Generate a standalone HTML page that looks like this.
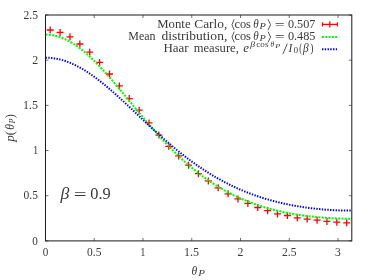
<!DOCTYPE html>
<html><head><meta charset="utf-8"><style>
html,body{margin:0;padding:0;background:#fff;}
svg{display:block;font-family:"Liberation Serif",serif;will-change:transform;}
text{fill:#3a3a3a;}
</style></head><body>
<svg width="374" height="280" viewBox="0 0 374 280">
<rect width="374" height="280" fill="#fff"/>
<path d="M46.70,30.00h7M50.20,26.50v7M56.58,32.40h7M60.08,28.90v7M66.47,36.80h7M69.97,33.30v7M76.35,44.00h7M79.85,40.50v7M86.23,52.20h7M89.73,48.70v7M96.11,62.40h7M99.61,58.90v7M106.00,74.00h7M109.50,70.50v7M115.88,85.90h7M119.38,82.40v7M125.76,98.60h7M129.26,95.10v7M135.65,110.20h7M139.15,106.70v7M145.53,122.90h7M149.03,119.40v7M155.41,135.10h7M158.91,131.60v7M165.30,146.30h7M168.80,142.80v7M175.18,155.90h7M178.68,152.40v7M185.06,165.20h7M188.56,161.70v7M194.94,173.70h7M198.44,170.20v7M204.83,180.90h7M208.33,177.40v7M214.71,187.80h7M218.21,184.30v7M224.59,193.80h7M228.09,190.30v7M234.48,198.90h7M237.98,195.40v7M244.36,203.40h7M247.86,199.90v7M254.24,207.50h7M257.74,204.00v7M264.13,210.70h7M267.63,207.20v7M274.01,213.90h7M277.51,210.40v7M283.89,215.50h7M287.39,212.00v7M293.77,217.80h7M297.27,214.30v7M303.66,219.10h7M307.16,215.60v7M313.54,220.20h7M317.04,216.70v7M323.42,221.40h7M326.92,217.90v7M333.31,222.20h7M336.81,218.70v7M343.19,222.80h7M346.69,219.30v7" stroke="#f00" stroke-width="1.3" fill="none"/>
<path d="M45.50,34.61 L47.03,34.64 L48.56,34.73 L50.09,34.87 L51.63,35.07 L53.16,35.32 L54.69,35.63 L56.22,36.00 L57.75,36.42 L59.28,36.90 L60.81,37.43 L62.35,38.01 L63.88,38.65 L65.41,39.34 L66.94,40.08 L68.47,40.87 L70.00,41.71 L71.54,42.61 L73.07,43.55 L74.60,44.53 L76.13,45.57 L77.66,46.65 L79.19,47.77 L80.72,48.94 L82.26,50.15 L83.79,51.40 L85.32,52.69 L86.85,54.02 L88.38,55.38 L89.91,56.78 L91.44,58.22 L92.98,59.69 L94.51,61.19 L96.04,62.72 L97.57,64.28 L99.10,65.87 L100.63,67.48 L102.17,69.12 L103.70,70.79 L105.23,72.47 L106.76,74.18 L108.29,75.91 L109.82,77.65 L111.35,79.41 L112.89,81.19 L114.42,82.98 L115.95,84.78 L117.48,86.59 L119.01,88.41 L120.54,90.25 L122.08,92.09 L123.61,93.93 L125.14,95.78 L126.67,97.64 L128.20,99.49 L129.73,101.35 L131.26,103.21 L132.80,105.07 L134.33,106.92 L135.86,108.78 L137.39,110.63 L138.92,112.47 L140.45,114.31 L141.98,116.14 L143.52,117.96 L145.05,119.77 L146.58,121.58 L148.11,123.37 L149.64,125.15 L151.17,126.92 L152.70,128.68 L154.24,130.42 L155.77,132.15 L157.30,133.87 L158.83,135.57 L160.36,137.26 L161.89,138.93 L163.43,140.58 L164.96,142.21 L166.49,143.83 L168.02,145.43 L169.55,147.01 L171.08,148.57 L172.61,150.12 L174.15,151.64 L175.68,153.14 L177.21,154.63 L178.74,156.09 L180.27,157.54 L181.80,158.96 L183.34,160.37 L184.87,161.75 L186.40,163.11 L187.93,164.45 L189.46,165.77 L190.99,167.07 L192.52,168.35 L194.06,169.61 L195.59,170.84 L197.12,172.06 L198.65,173.26 L200.18,174.43 L201.71,175.58 L203.24,176.72 L204.78,177.83 L206.31,178.92 L207.84,179.99 L209.37,181.05 L210.90,182.08 L212.43,183.09 L213.97,184.08 L215.50,185.06 L217.03,186.01 L218.56,186.94 L220.09,187.86 L221.62,188.76 L223.15,189.64 L224.69,190.50 L226.22,191.34 L227.75,192.16 L229.28,192.97 L230.81,193.76 L232.34,194.53 L233.87,195.29 L235.41,196.03 L236.94,196.75 L238.47,197.46 L240.00,198.15 L241.53,198.82 L243.06,199.48 L244.59,200.13 L246.13,200.75 L247.66,201.37 L249.19,201.97 L250.72,202.55 L252.25,203.12 L253.78,203.68 L255.32,204.22 L256.85,204.75 L258.38,205.27 L259.91,205.78 L261.44,206.27 L262.97,206.75 L264.50,207.21 L266.04,207.67 L267.57,208.11 L269.10,208.54 L270.63,208.96 L272.16,209.37 L273.69,209.77 L275.23,210.15 L276.76,210.53 L278.29,210.89 L279.82,211.25 L281.35,211.59 L282.88,211.93 L284.41,212.25 L285.95,212.57 L287.48,212.87 L289.01,213.17 L290.54,213.45 L292.07,213.73 L293.60,214.00 L295.13,214.26 L296.67,214.51 L298.20,214.76 L299.73,214.99 L301.26,215.22 L302.79,215.44 L304.32,215.65 L305.86,215.85 L307.39,216.05 L308.92,216.24 L310.45,216.42 L311.98,216.59 L313.51,216.75 L315.04,216.91 L316.58,217.06 L318.11,217.21 L319.64,217.34 L321.17,217.47 L322.70,217.60 L324.23,217.71 L325.76,217.82 L327.30,217.93 L328.83,218.02 L330.36,218.11 L331.89,218.20 L333.42,218.28 L334.95,218.35 L336.49,218.41 L338.02,218.47 L339.55,218.52 L341.08,218.57 L342.61,218.61 L344.14,218.64 L345.67,218.67 L347.21,218.69 L348.74,218.71 L350.27,218.72 L351.80,218.72" stroke="#0f0" stroke-width="2" stroke-dasharray="2.0 1.3" fill="none"/>
<path d="M45.50,57.67 L47.03,57.69 L48.56,57.76 L50.09,57.86 L51.63,58.00 L53.16,58.18 L54.69,58.40 L56.22,58.67 L57.75,58.97 L59.28,59.31 L60.81,59.69 L62.35,60.11 L63.88,60.57 L65.41,61.07 L66.94,61.60 L68.47,62.17 L70.00,62.78 L71.54,63.43 L73.07,64.11 L74.60,64.82 L76.13,65.57 L77.66,66.35 L79.19,67.17 L80.72,68.02 L82.26,68.90 L83.79,69.81 L85.32,70.75 L86.85,71.72 L88.38,72.72 L89.91,73.74 L91.44,74.79 L92.98,75.87 L94.51,76.98 L96.04,78.11 L97.57,79.26 L99.10,80.43 L100.63,81.63 L102.17,82.84 L103.70,84.08 L105.23,85.34 L106.76,86.61 L108.29,87.90 L109.82,89.21 L111.35,90.53 L112.89,91.87 L114.42,93.21 L115.95,94.58 L117.48,95.95 L119.01,97.33 L120.54,98.73 L122.08,100.13 L123.61,101.54 L125.14,102.96 L126.67,104.39 L128.20,105.82 L129.73,107.25 L131.26,108.69 L132.80,110.13 L134.33,111.57 L135.86,113.02 L137.39,114.47 L138.92,115.91 L140.45,117.36 L141.98,118.80 L143.52,120.24 L145.05,121.68 L146.58,123.12 L148.11,124.55 L149.64,125.97 L151.17,127.39 L152.70,128.81 L154.24,130.22 L155.77,131.62 L157.30,133.01 L158.83,134.40 L160.36,135.78 L161.89,137.15 L163.43,138.50 L164.96,139.85 L166.49,141.19 L168.02,142.52 L169.55,143.84 L171.08,145.14 L172.61,146.44 L174.15,147.72 L175.68,148.99 L177.21,150.25 L178.74,151.49 L180.27,152.72 L181.80,153.94 L183.34,155.14 L184.87,156.33 L186.40,157.51 L187.93,158.67 L189.46,159.82 L190.99,160.96 L192.52,162.08 L194.06,163.18 L195.59,164.27 L197.12,165.35 L198.65,166.41 L200.18,167.45 L201.71,168.48 L203.24,169.50 L204.78,170.50 L206.31,171.48 L207.84,172.46 L209.37,173.41 L210.90,174.35 L212.43,175.28 L213.97,176.19 L215.50,177.09 L217.03,177.97 L218.56,178.83 L220.09,179.69 L221.62,180.52 L223.15,181.35 L224.69,182.15 L226.22,182.95 L227.75,183.73 L229.28,184.49 L230.81,185.24 L232.34,185.98 L233.87,186.70 L235.41,187.41 L236.94,188.11 L238.47,188.79 L240.00,189.46 L241.53,190.12 L243.06,190.76 L244.59,191.39 L246.13,192.01 L247.66,192.61 L249.19,193.21 L250.72,193.79 L252.25,194.35 L253.78,194.91 L255.32,195.45 L256.85,195.98 L258.38,196.50 L259.91,197.01 L261.44,197.51 L262.97,197.99 L264.50,198.46 L266.04,198.93 L267.57,199.38 L269.10,199.82 L270.63,200.25 L272.16,200.67 L273.69,201.08 L275.23,201.48 L276.76,201.87 L278.29,202.25 L279.82,202.62 L281.35,202.97 L282.88,203.32 L284.41,203.66 L285.95,204.00 L287.48,204.32 L289.01,204.63 L290.54,204.93 L292.07,205.23 L293.60,205.51 L295.13,205.79 L296.67,206.06 L298.20,206.32 L299.73,206.57 L301.26,206.81 L302.79,207.05 L304.32,207.27 L305.86,207.49 L307.39,207.70 L308.92,207.90 L310.45,208.10 L311.98,208.29 L313.51,208.47 L315.04,208.64 L316.58,208.80 L318.11,208.96 L319.64,209.11 L321.17,209.25 L322.70,209.38 L324.23,209.51 L325.76,209.63 L327.30,209.74 L328.83,209.85 L330.36,209.95 L331.89,210.04 L333.42,210.13 L334.95,210.20 L336.49,210.28 L338.02,210.34 L339.55,210.40 L341.08,210.45 L342.61,210.49 L344.14,210.53 L345.67,210.56 L347.21,210.58 L348.74,210.60 L350.27,210.61 L351.80,210.61" stroke="#00f" stroke-width="2" stroke-dasharray="1.4 1.36" fill="none"/>
<path d="M45.50,240.90v-3M45.50,15.00v3M94.25,240.90v-3M94.25,15.00v3M143.00,240.90v-3M143.00,15.00v3M191.75,240.90v-3M191.75,15.00v3M240.50,240.90v-3M240.50,15.00v3M289.25,240.90v-3M289.25,15.00v3M337.99,240.90v-3M337.99,15.00v3M45.50,240.90h3M351.80,240.90h-3M45.50,195.72h3M351.80,195.72h-3M45.50,150.54h3M351.80,150.54h-3M45.50,105.36h3M351.80,105.36h-3M45.50,60.18h3M351.80,60.18h-3M45.50,15.00h3M351.80,15.00h-3" stroke="#333" stroke-width="0.7" fill="none"/>
<rect x="45.5" y="15.0" width="306.30" height="225.90" fill="none" stroke="#1a1a1a" stroke-width="1"/>
<text transform="translate(157.23,27.50) scale(1.083,1)" font-size="11.8">Monte</text><text transform="translate(194.21,27.50) scale(1.136,1)" font-size="11.8">Carlo,</text><text transform="translate(128.25,39.80) scale(1.015,1)" font-size="11.8">Mean</text><text transform="translate(161.48,39.80) scale(1.149,1)" font-size="11.8">distribution,</text><text transform="translate(234.42,27.50) scale(1.046,1)" font-size="11.8">cos</text><text transform="translate(253.35,27.50) scale(0.937,1)" font-size="11.8" font-style="italic">θ</text><text transform="translate(259.55,29.10) scale(1.123,1)" font-size="9.2" font-style="italic">P</text><text transform="translate(274.76,28.70) scale(1.481,1)" font-size="11.8">=</text><text transform="translate(287.92,27.50) scale(1.033,1)" font-size="11.8">0.507</text><text transform="translate(234.42,39.80) scale(1.046,1)" font-size="11.8">cos</text><text transform="translate(253.35,39.80) scale(0.937,1)" font-size="11.8" font-style="italic">θ</text><text transform="translate(259.55,41.40) scale(1.123,1)" font-size="9.2" font-style="italic">P</text><text transform="translate(274.76,41.00) scale(1.481,1)" font-size="11.8">=</text><text transform="translate(287.92,39.80) scale(1.038,1)" font-size="11.8">0.485</text><text transform="translate(163.43,51.60) scale(1.100,1)" font-size="11.8">Haar</text><text transform="translate(193.70,51.60) scale(1.070,1)" font-size="11.8">measure,</text><text transform="translate(243.36,51.60) scale(1.094,1)" font-size="11.8" font-style="italic">e</text><text transform="translate(250.35,47.30) scale(1.140,1)" font-size="8.6" font-style="italic">β</text><text transform="translate(256.33,47.30) scale(1.058,1)" font-size="8.6">cos</text><text transform="translate(270.42,47.30) scale(0.848,1)" font-size="8.6" font-style="italic">θ</text><text transform="translate(275.13,48.30) scale(1.237,1)" font-size="6.6" font-style="italic">P</text><text transform="translate(288.61,51.60) scale(0.981,1)" font-size="11.8" font-style="italic">I</text><text transform="translate(293.52,53.30) scale(1.082,1)" font-size="8.6">0</text><text transform="translate(299.32,51.60) scale(0.704,1)" font-size="11.8">(</text><text transform="translate(303.08,51.60) scale(0.962,1)" font-size="11.8" font-style="italic">β</text><text transform="translate(310.16,51.60) scale(0.815,1)" font-size="11.8">)</text><text transform="translate(42.71,256.00) scale(0.946,1)" font-size="11.8">0</text><text transform="translate(87.05,256.00) scale(0.977,1)" font-size="11.8">0.5</text><text transform="translate(140.26,256.00) scale(0.883,1)" font-size="11.8">1</text><text transform="translate(183.92,256.00) scale(1.020,1)" font-size="11.8">1.5</text><text transform="translate(237.62,256.00) scale(1.004,1)" font-size="11.8">2</text><text transform="translate(281.98,256.00) scale(0.981,1)" font-size="11.8">2.5</text><text transform="translate(335.08,256.00) scale(0.969,1)" font-size="11.8">3</text><text transform="translate(32.36,244.50) scale(0.946,1)" font-size="11.8">0</text><text transform="translate(23.55,199.32) scale(0.977,1)" font-size="11.8">0.5</text><text transform="translate(32.96,154.14) scale(0.883,1)" font-size="11.8">1</text><text transform="translate(22.93,108.96) scale(1.020,1)" font-size="11.8">1.5</text><text transform="translate(32.28,63.78) scale(1.004,1)" font-size="11.8">2</text><text transform="translate(23.49,18.60) scale(0.981,1)" font-size="11.8">2.5</text><text transform="translate(60.60,199.00) scale(1.120,1)" font-size="15.8" font-style="italic">β</text><text transform="translate(73.83,200.30) scale(1.439,1)" font-size="15.8">=</text><text transform="translate(90.28,199.00) scale(1.034,1)" font-size="15.8">0.9</text><text transform="translate(191.43,274.80) scale(0.977,1)" font-size="11.8" font-style="italic">θ</text><text transform="translate(198.36,276.40) scale(1.196,1)" font-size="9.2" font-style="italic">P</text>
<path d="M234.20,19.30L232.00,24.70L234.20,30.10M268.00,19.30L270.60,24.70L268.00,30.10M234.20,31.60L232.00,37.00L234.20,42.40M268.00,31.60L270.60,37.00L268.00,42.40M287.3,43.60L282.9,54.20" stroke="#111" stroke-width="0.7" fill="none"/>
<g transform="translate(13.5,143) rotate(-90)"><text transform="translate(1.23,0.00) scale(1.103,1)" font-size="11.8" font-style="italic">p</text><text transform="translate(7.87,0.00) scale(1.023,1)" font-size="11.8">(</text><text transform="translate(13.23,0.00) scale(0.977,1)" font-size="11.8" font-style="italic">θ</text><text transform="translate(19.43,1.80) scale(0.906,1)" font-size="9.2" font-style="italic">P</text><text transform="translate(24.90,0.00) scale(0.978,1)" font-size="11.8">)</text></g>
<path d="M322.2,24.4h15.4M322.5,22.3v4.2M337.3,22.3v4.2M329.8,21.2v6.4" stroke="#f00" stroke-width="1.2" fill="none"/>
<path d="M322,37.0h15.3" stroke="#0f0" stroke-width="1.9" stroke-dasharray="2.0 1.3" fill="none"/>
<path d="M322,49.3h15.0" stroke="#00f" stroke-width="1.9" stroke-dasharray="1.4 1.36" fill="none"/>
</svg>
</body></html>
